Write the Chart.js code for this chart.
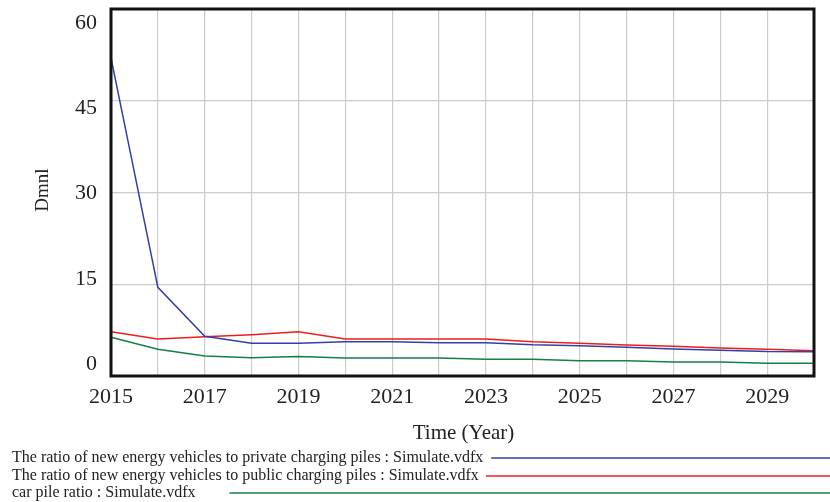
<!DOCTYPE html>
<html>
<head>
<meta charset="utf-8">
<script src="https://cdn.jsdelivr.net/npm/chart.js@4"></script>
<style>
  html, body { margin: 0; padding: 0; background: #fff; }
  #chart { display: block; }
</style>
</head>
<body>
<canvas id="chart" width="830" height="502"></canvas>
<script>
// --- data ---
const years = ['2015','2016','2017','2018','2019','2020','2021','2022','2023','2024','2025','2026','2027','2028','2029','2030'];
const privateRatio = [52.0, 14.5, 6.5, 5.35, 5.35, 5.6, 5.6, 5.45, 5.45, 5.1, 4.95, 4.7, 4.4, 4.2, 4.0, 3.97];
const publicRatio  = [7.25, 6.05, 6.4, 6.75, 7.25, 6.05, 6.05, 6.05, 6.05, 5.6, 5.35, 5.07, 4.85, 4.58, 4.37, 4.14];
const carPileRatio = [6.33, 4.37, 3.27, 3.0, 3.2, 2.95, 2.95, 2.95, 2.73, 2.73, 2.5, 2.5, 2.29, 2.29, 2.07, 2.07];
const yTicks = [0, 15, 30, 45, 60];
const seriesNames = [
  'The ratio of new energy vehicles to private charging piles : Simulate.vdfx',
  'The ratio of new energy vehicles to public charging piles : Simulate.vdfx',
  'car pile ratio : Simulate.vdfx'
];

const COLORS = ['#3040a8', '#f01c1c', '#128048'];
const SERIF = '"Liberation Serif", "Times New Roman", serif';

// frame, y labels, axis titles and the bottom legend
const decorPlugin = {
  id: 'decor',
  afterDraw(chart) {
    const ctx = chart.ctx;
    const a = chart.chartArea;
    const ys = chart.scales.y;
    ctx.save();

    // thick plot frame
    ctx.strokeStyle = '#111';
    ctx.lineWidth = 3;
    ctx.strokeRect(a.left, a.top, a.right - a.left, a.bottom - a.top);

    // y labels are squeezed inside the frame like the original tool does
    ctx.fillStyle = '#222';
    ctx.font = '22px ' + SERIF;
    ctx.textAlign = 'right';
    ctx.textBaseline = 'middle';
    const inset = 13;
    yTicks.forEach(v => {
      const p = ys.getPixelForValue(v);
      const t = (p - a.top) / (a.bottom - a.top);
      const y = a.top + inset + t * (a.bottom - a.top - 2 * inset);
      ctx.fillText(String(v), a.left - 14, y + 1);
    });

    // axis titles
    ctx.textAlign = 'center';
    ctx.font = '21px ' + SERIF;
    ctx.fillText('Time (Year)', (a.left + a.right) / 2 + 1, 433);
    ctx.save();
    ctx.translate(43, 190);
    ctx.rotate(-Math.PI / 2);
    ctx.font = '19px ' + SERIF;
    ctx.fillText('Dmnl', 0, 0);
    ctx.restore();

    // legend rows
    ctx.font = '16px ' + SERIF;
    ctx.textAlign = 'left';
    const rowY = [458, 476, 493];
    const gap = [8, 7, 34];
    seriesNames.forEach((name, i) => {
      ctx.fillStyle = '#222';
      ctx.fillText(name, 12, rowY[i]);
      const w = ctx.measureText(name).width;
      ctx.strokeStyle = COLORS[i];
      ctx.lineWidth = 1.5;
      ctx.beginPath();
      ctx.moveTo(12 + w + gap[i], rowY[i]);
      ctx.lineTo(830, rowY[i]);
      ctx.stroke();
    });
    ctx.restore();
  }
};

const mkSet = (label, data, color) => ({
  label, data,
  borderColor: color,
  borderWidth: 1.5,
  pointRadius: 0,
  tension: 0,
  fill: false
});

new Chart(document.getElementById('chart'), {
  type: 'line',
  data: {
    labels: years,
    datasets: [
      mkSet(seriesNames[0], privateRatio, COLORS[0]),
      mkSet(seriesNames[1], publicRatio, COLORS[1]),
      mkSet(seriesNames[2], carPileRatio, COLORS[2])
    ]
  },
  options: {
    responsive: false,
    animation: false,
    devicePixelRatio: 1,
    layout: { padding: { top: 9, right: 16, left: 0, bottom: 0 } },
    plugins: { legend: { display: false }, tooltip: { enabled: false } },
    scales: {
      x: {
        type: 'category',
        offset: false,
        grid: { color: '#cccccc', lineWidth: 1.2, drawTicks: false },
        border: { display: false },
        ticks: {
          autoSkip: false,
          maxRotation: 0,
          padding: 8,
          color: '#222',
          font: { family: SERIF, size: 22 },
          callback: (v, i) => (i % 2 === 0 ? years[i] : '')
        },
        afterFit: s => { s.height = 126; }
      },
      y: {
        min: 0,
        max: 60,
        afterBuildTicks: s => { s.ticks = yTicks.map(v => ({ value: v })); },
        grid: { color: '#cccccc', lineWidth: 1.2, drawTicks: false },
        border: { display: false },
        ticks: { display: false },
        afterFit: s => { s.width = 111; }
      }
    }
  },
  plugins: [decorPlugin]
});
</script>
</body>
</html>
